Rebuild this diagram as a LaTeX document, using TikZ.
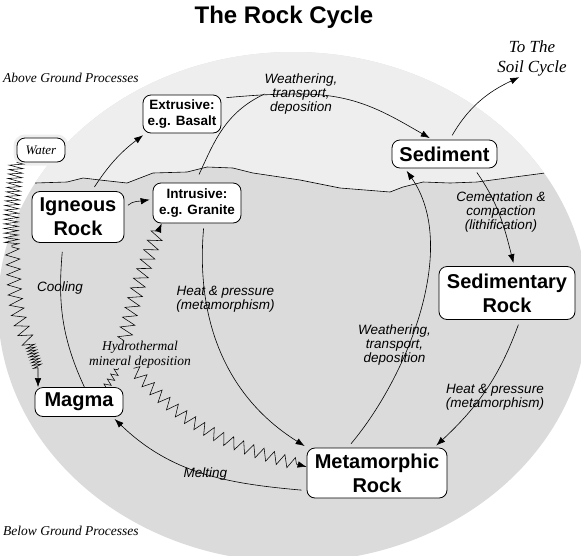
\documentclass[tikz,border=0pt]{standalone}
\usepackage{fontspec}
\setmainfont{Liberation Sans}
\newfontfamily\timesfont{Liberation Serif}
\usetikzlibrary{arrows.meta,decorations.pathmorphing}

\definecolor{skygrey}{gray}{0.935}
\definecolor{earthgrey}{gray}{0.86}

\begin{document}
\begin{tikzpicture}[x=1pt,y=1pt,>={Latex[length=9pt,width=6.5pt]},
    rock/.style={draw,fill=white,rounded corners=8pt,line width=0.8pt,align=center,
      inner sep=0pt,font=\bfseries\fontsize{20}{24}\selectfont},
    minor/.style={rock,font=\bfseries\fontsize{13.5}{16.5}\selectfont},
    proc/.style={align=center,inner sep=0pt,font=\itshape\fontsize{13.5}{14}\selectfont},
    note/.style={align=center,inner sep=0pt,font=\timesfont\itshape\fontsize{13.5}{15}\selectfont},
    link/.style={line width=0.6pt,shorten <=5pt},
    flow/.style={link,->,shorten >=3pt},
    wave/.style={line width=0.55pt}]
    \useasboundingbox (0,0) rectangle (581,-555);

    % the ground, split at the surface
    \fill[earthgrey] (293,-307) ellipse [x radius=295pt,y radius=255pt];
    \begin{scope}
      \clip (293,-307) ellipse [x radius=295pt,y radius=255pt];
      \draw[line width=0.6pt,fill=skygrey] (0,-183) -- (35,-183) -- (67,-182) -- (83,-178)
        -- (100,-180) -- (127,-183) -- (153,-173) -- (187,-172) -- (207,-167) -- (233,-168)
        -- (253,-173) -- (300,-180) -- (340,-188) -- (390,-192) -- (403,-187) -- (423,-182)
        -- (450,-183) -- (477,-182) -- (507,-178) -- (545,-173) -- (581,-170)
        -- (581,0) -- (0,0) -- cycle;
    \end{scope}

    \node[font=\bfseries\fontsize{24}{28}\selectfont] (title) at (284,-17) {The Rock Cycle};
    \node[note,anchor=west,font=\timesfont\itshape\fontsize{13.5}{15}\selectfont] (above) at (3,-78) {Above Ground Processes};
    \node[note,anchor=west,font=\timesfont\itshape\fontsize{13.5}{15}\selectfont] (below) at (3,-531) {Below Ground Processes};

    % rocks
    \node[rock,minimum width=92pt,minimum height=51pt] (ign) at (78,-217) {Igneous\\Rock};
    \node[minor,minimum width=78pt,minimum height=38pt] (extr) at (182,-114) {Extrusive:\\e.g. Basalt};
    \node[minor,minimum width=88pt,minimum height=40pt] (intr) at (197,-203) {Intrusive:\\e.g. Granite};
    \node[rock,minimum width=105pt,minimum height=28pt] (sed) at (444.5,-154) {Sediment};
    \node[rock,minimum width=136pt,minimum height=53pt] (sedr) at (507,-293) {Sedimentary\\Rock};
    \node[rock,minimum width=88pt,minimum height=29pt] (magma) at (79,-402) {Magma};
    \node[rock,minimum width=140pt,minimum height=50pt] (meta) at (377,-473) {Metamorphic\\Rock};
    \node[rock,font=\timesfont\itshape\fontsize{13}{15}\selectfont,minimum width=48pt,
      minimum height=24pt,preaction={draw=skygrey,line width=7pt}] (water) at (41,-150) {Water};

    % processes
    \node[note,font=\timesfont\itshape\fontsize{17}{20}\selectfont] (soil) at (532,-58) {To The\\Soil Cycle};
    \node[proc] (weath1) at (301,-94) {Weathering,\\transport,\\deposition};
    \node[proc] (cement) at (501,-212) {Cementation \&\\compaction\\(lithification)};
    \node[proc] (cool) at (60,-288) {Cooling};
    \node[proc] (heat1) at (225.5,-299.5) {Heat \& pressure\\(metamorphism)};
    \node[proc] (weath2) at (394.5,-345) {Weathering,\\transport,\\deposition};
    \node[proc] (heat2) at (495,-397.5) {Heat \& pressure\\(metamorphism)};
    \node[note] (hydro) at (140,-354.5) {Hydrothermal\\mineral deposition};
    \node[proc] (melt) at (205.5,-474) {Melting};

    \draw[flow] (ign.62) to[bend left=10] (extr.208);
    \draw[flow] (ign.10) to[out=45,in=190] (intr.175);
    \draw[link,shorten <=9pt] (ign.240) to[out=-95,in=115] (magma.70);
    \draw[flow] (extr.22) to[out=5,in=180] (weath1.center) to[out=0,in=150] (sed.130);
    \draw[link,shorten <=9pt] (intr.95) to[out=65,in=205] (weath1.west);
    \draw[flow] (sed.70) to[out=60,in=205] ([xshift=-10pt]soil.south);
    \draw[flow] (sed.-26) to[out=-55,in=104] (sedr.75);
    \draw[flow] (sedr.-64) to[out=-110,in=43] (meta.24);
    \draw[flow] (intr.-71) to[out=-95,in=148] (meta.160);
    \draw[flow] (meta.139) to[out=50,in=-55,looseness=0.85] (sed.-160);
    \draw[flow] (meta.-166) to[out=175,in=-44] (magma.-24);

    % hydrothermal and water
    \draw[wave] (magma.29) decorate[decoration={zigzag,segment length=6pt,amplitude=3.5pt}] {-- (hydro.-147)};
    \draw[wave,->,decorate,decoration={zigzag,segment length=10pt,amplitude=7pt,post length=6pt}]
      (hydro.139) to[bend left=5] (intr.-150);
    \draw[wave,->,decorate,decoration={zigzag,segment length=11pt,amplitude=6pt,post length=10pt}]
      (hydro.-115) to[out=-50,in=165] (meta.175);
    \coordinate (wz1) at (12,-247);
    \coordinate (wz2) at (30,-345);
    \coordinate (wz3) at (38,-368);
    \draw[wave,->] (water.south west)
      decorate[decoration={zigzag,segment length=4.5pt,amplitude=7pt}] {to[out=-95,in=95] (wz1)}
      decorate[decoration={zigzag,segment length=10pt,amplitude=7pt}] {to[out=-85,in=118] (wz2)}
      decorate[decoration={zigzag,segment length=3pt,amplitude=4.5pt}] {-- (wz3)}
      -- (magma.160);
\end{tikzpicture}
\end{document}
